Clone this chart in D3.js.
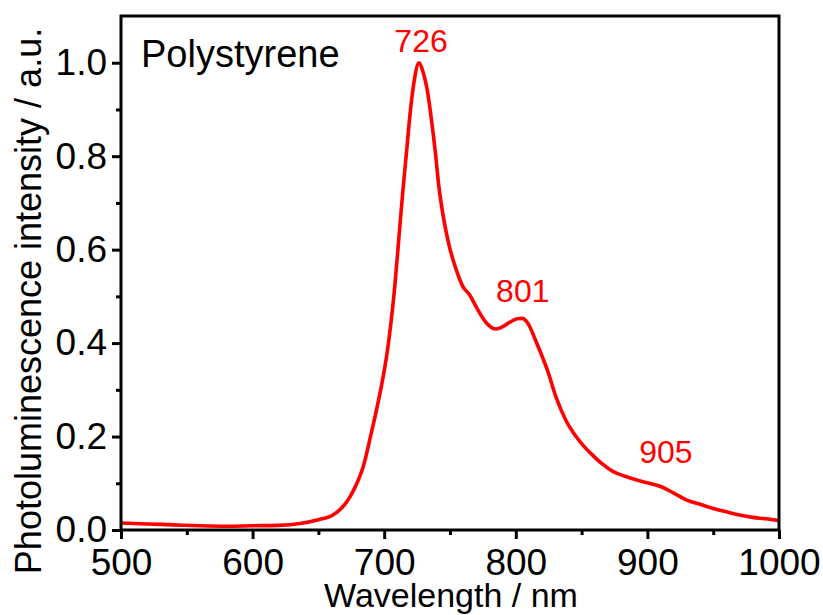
<!DOCTYPE html>
<html>
<head>
<meta charset="utf-8">
<script src="https://cdn.jsdelivr.net/npm/d3@7"></script>
<style>
  html, body { margin: 0; padding: 0; background: #fff; }
  svg { display: block; font-family: "Liberation Sans", Arial, sans-serif; }
</style>
</head>
<body>
<svg id="chart" width="823" height="615"></svg>
<script>
// ---- data ----
const wavelength = [500, 520, 540, 560, 580, 600, 620, 636, 650, 661, 668, 674, 680, 684, 690, 694, 698, 702, 705, 708, 711, 714, 717, 720, 723, 726.5, 729.5, 732.5, 736, 739, 741.3, 745, 749, 754, 760, 765, 770, 778, 785, 790, 795, 801, 805, 809, 816, 824, 831, 838, 844, 850, 857, 865, 874, 883, 892, 900, 910, 920, 930, 940, 950, 960, 970, 980, 990, 1000];
const intensity = [0.015, 0.013, 0.011, 0.009, 0.008, 0.009, 0.010, 0.014, 0.022, 0.032, 0.048, 0.071, 0.105, 0.135, 0.205, 0.255, 0.31, 0.375, 0.44, 0.52, 0.62, 0.72, 0.81, 0.9, 0.965, 1.0, 0.98, 0.945, 0.876, 0.805, 0.741, 0.669, 0.613, 0.563, 0.52, 0.503, 0.477, 0.442, 0.43, 0.435, 0.444, 0.452, 0.453, 0.443, 0.399, 0.342, 0.281, 0.235, 0.207, 0.185, 0.164, 0.143, 0.125, 0.115, 0.107, 0.101, 0.093, 0.079, 0.064, 0.055, 0.046, 0.039, 0.032, 0.027, 0.024, 0.020];
const xTickValues = [500, 600, 700, 800, 900, 1000];
const xMinorTicks = [550, 650, 750, 850, 950];
const yTickValues = [0.0, 0.2, 0.4, 0.6, 0.8, 1.0];
const yMinorTicks = [0.1, 0.3, 0.5, 0.7, 0.9];
const peakLabels = ["726", "801", "905"];
const peakLabelX = [728, 805.3, 914];
const peakLabelY = [1.023, 0.488, 0.143];
const sampleName = "Polystyrene";
const xTitle = "Wavelength / nm";
const yTitle = "Photoluminescence intensity / a.u.";

// ---- layout ----
const svg = d3.select("#chart");
const mLeft = 121, mRight = 779, mTop = 16, mBottom = 530;
const x = d3.scaleLinear().domain([500, 1000]).range([mLeft, mRight]);
const y = d3.scaleLinear().domain([0, 1.1]).range([mBottom, mTop]);

// curve
const pts = wavelength.map((w, i) => [w, intensity[i]]);
svg.append("path")
  .datum(pts)
  .attr("fill", "none")
  .attr("stroke", "#ff0000")
  .attr("stroke-width", 3.6)
  .attr("stroke-linejoin", "round")
  .attr("d", d3.line().x(d => x(d[0])).y(d => y(d[1])).curve(d3.curveMonotoneX));

// axes
const xAxis = svg.append("g").attr("transform", `translate(0,${mBottom})`)
  .call(d3.axisBottom(x).tickValues(xTickValues).tickSize(9).tickPadding(10).tickFormat(d3.format("d")));
const xMinor = svg.append("g").attr("transform", `translate(0,${mBottom})`)
  .call(d3.axisBottom(x).tickValues(xMinorTicks).tickSize(5).tickFormat(""));
const yAxis = svg.append("g").attr("transform", `translate(${mLeft},0)`)
  .call(d3.axisLeft(y).tickValues(yTickValues).tickSize(9).tickPadding(5).tickFormat(d3.format(".1f")));
const yMinor = svg.append("g").attr("transform", `translate(${mLeft},0)`)
  .call(d3.axisLeft(y).tickValues(yMinorTicks).tickSize(5).tickFormat(""));

[xAxis, xMinor, yAxis, yMinor].forEach(g => {
  g.select(".domain").remove();
  g.selectAll(".tick line").attr("stroke", "#000").attr("stroke-width", 3);
  g.selectAll(".tick text").attr("fill", "#000").attr("font-size", 37)
    .attr("font-family", "Liberation Sans, Arial, sans-serif");
});

// frame
svg.append("rect")
  .attr("x", mLeft).attr("y", mTop)
  .attr("width", mRight - mLeft).attr("height", mBottom - mTop)
  .attr("fill", "none").attr("stroke", "#000").attr("stroke-width", 3);

// titles
svg.append("text")
  .attr("x", (mLeft + mRight) / 2 + 1).attr("y", 607)
  .attr("text-anchor", "middle").attr("font-size", 34).attr("fill", "#000")
  .text(xTitle);
svg.append("text")
  .attr("transform", `translate(41,301) rotate(-90)`)
  .attr("text-anchor", "middle").attr("font-size", 36).attr("fill", "#000")
  .text(yTitle);

// sample name
svg.append("text")
  .attr("x", 141).attr("y", 67)
  .attr("font-size", 38).attr("fill", "#000")
  .text(sampleName);

// peak labels
svg.selectAll("text.peak")
  .data(peakLabels)
  .enter().append("text")
  .attr("class", "peak")
  .attr("x", (d, i) => x(peakLabelX[i]))
  .attr("y", (d, i) => y(peakLabelY[i]))
  .attr("text-anchor", "middle")
  .attr("font-size", 32)
  .attr("fill", "#ff0000")
  .text(d => d);
</script>
</body>
</html>
